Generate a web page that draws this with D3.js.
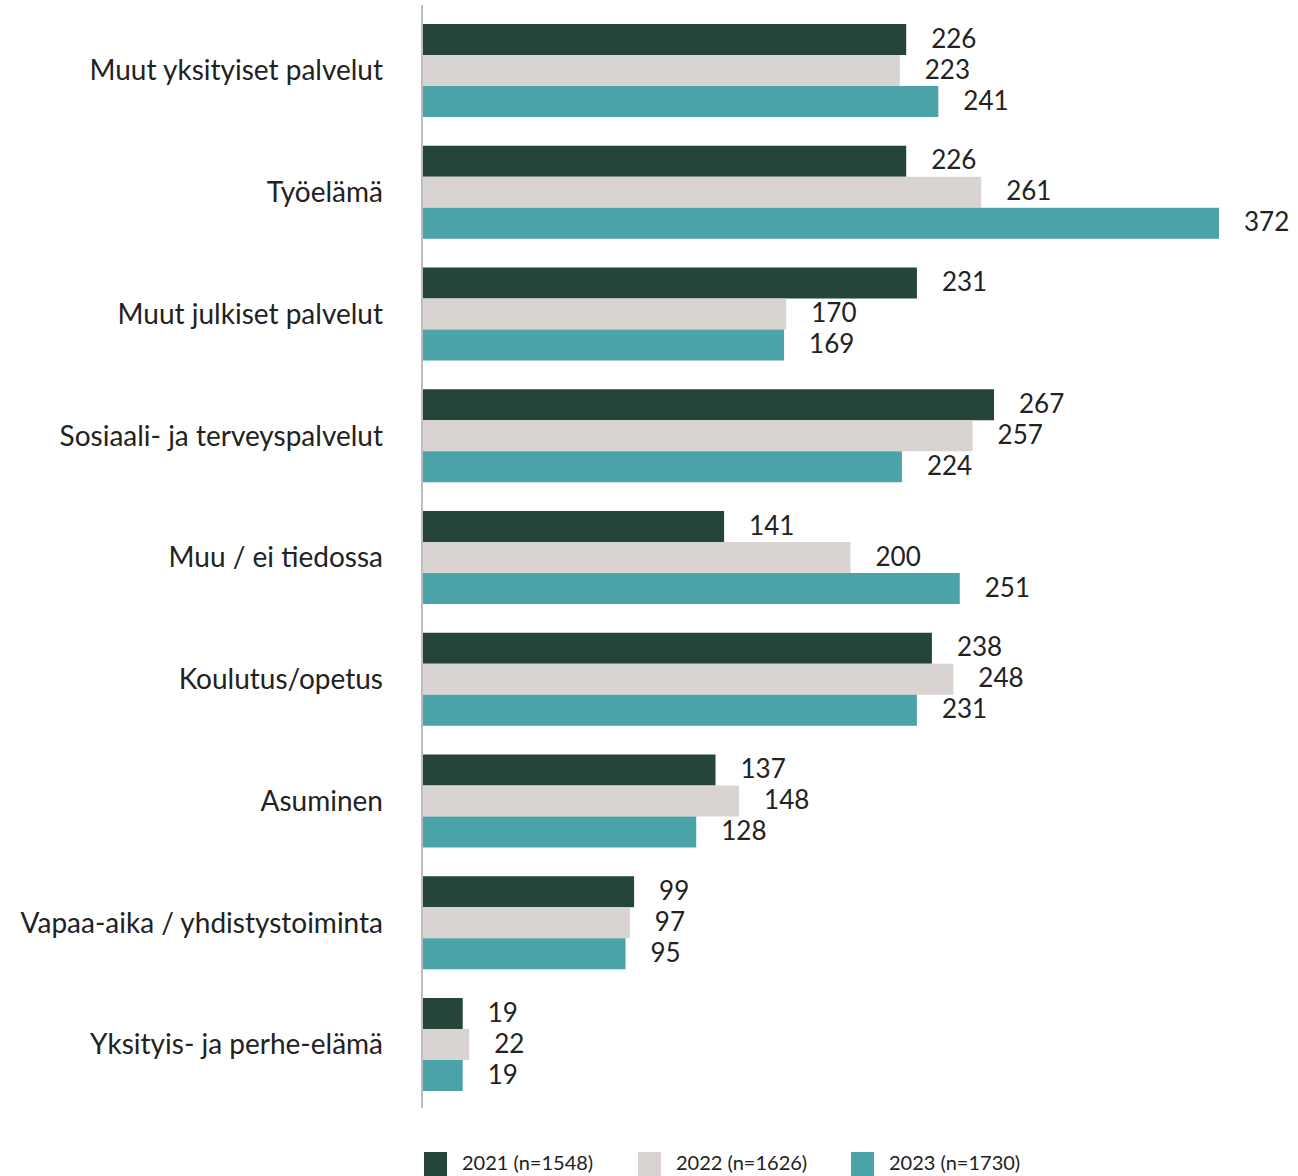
<!DOCTYPE html>
<html><head><meta charset="utf-8">
<script src="https://cdn.jsdelivr.net/npm/d3@7"></script>
<style>body{margin:0;background:#fff}svg{display:block}text{font-family:Lato,"Source Sans Pro",sans-serif;fill:#222}</style>
</head><body><svg id="c" width="1298" height="1176"></svg>
<script>
const categories = ["Muut yksityiset palvelut","Työelämä","Muut julkiset palvelut","Sosiaali- ja terveyspalvelut","Muu / ei tiedossa","Koulutus/opetus","Asuminen","Vapaa-aika / yhdistystoiminta","Yksityis- ja perhe-elämä"];
const seriesNames = ["2021 (n=1548)","2022 (n=1626)","2023 (n=1730)"];
const v2021 = [226,226,231,267,141,238,137,99,19];
const v2022 = [223,261,170,257,200,248,148,97,22];
const v2023 = [241,372,169,224,251,231,128,95,19];
const colors = ["#25443a","#d9d4d2","#4aa3a8"];

const series = [v2021, v2022, v2023];
const svg = d3.select("#c");
const x = d3.scaleLinear().domain([0, 372]).range([422, 1219]);
const y = d3.scaleBand().domain(categories).range([24, 1091]).paddingInner(0.236).paddingOuter(0);
const ys = d3.scaleBand().domain([0,1,2]).range([0, y.bandwidth()]);

const g = svg.append("g");
categories.forEach((c, i) => {
  series.forEach((s, k) => {
    g.append("rect").attr("x", x(0)).attr("y", y(c) + ys(k))
      .attr("width", x(s[i]) - x(0)).attr("height", ys.bandwidth())
      .attr("fill", colors[k]);
    g.append("text").attr("x", x(s[i]) + 25).attr("y", y(c) + ys(k) + ys.bandwidth()/2 - 1)
      .attr("dy", "0.35em").attr("font-size", 26).text(s[i]);
  });
  g.append("text").attr("x", 383).attr("y", y(c) + y.bandwidth()/2)
    .attr("dy", "0.35em").attr("text-anchor", "end").attr("font-size", 28).text(c);
});

svg.append("line").attr("x1", 422).attr("x2", 422).attr("y1", 5).attr("y2", 1108)
  .attr("stroke", "#bdbdbd").attr("stroke-width", 2);

const legX = [424, 638, 851];
seriesNames.forEach((n, k) => {
  svg.append("rect").attr("x", legX[k]).attr("y", 1152).attr("width", 23).attr("height", 24).attr("fill", colors[k]);
  svg.append("text").attr("x", legX[k] + 38).attr("y", 1170).attr("font-size", 20).text(n);
});
</script></body></html>
